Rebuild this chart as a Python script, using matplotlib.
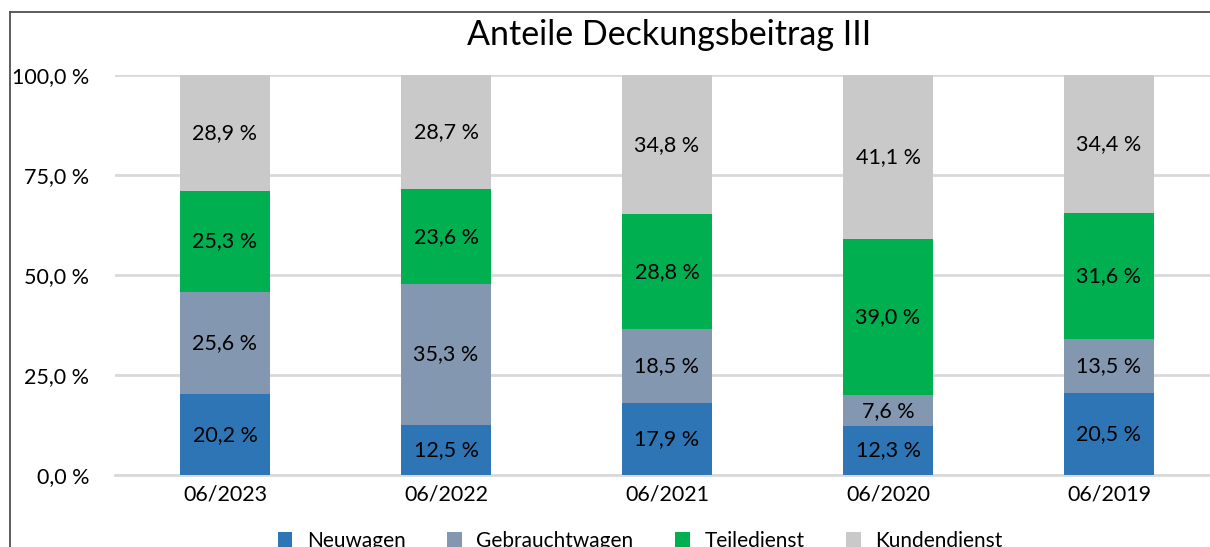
import matplotlib
matplotlib.use("Agg")
import matplotlib.pyplot as plt
from matplotlib.lines import Line2D
import numpy as np

plt.rcParams["font.family"] = ["Lato", "DejaVu Sans"]

categories = ["06/2023", "06/2022", "06/2021", "06/2020", "06/2019"]
series_names = ["Neuwagen", "Gebrauchtwagen", "Teiledienst", "Kundendienst"]
neuwagen = [20.2, 12.5, 17.9, 12.3, 20.5]
gebrauchtwagen = [25.6, 35.3, 18.5, 7.6, 13.5]
teiledienst = [25.3, 23.6, 28.8, 39.0, 31.6]
kundendienst = [28.9, 28.7, 34.8, 41.1, 34.4]
colors = ["#2E75B6", "#8497B0", "#00B050", "#C9C9C9"]


def fmt(v):
    return f"{v:.1f}".replace(".", ",") + " %"


fig = plt.figure(figsize=(12.1, 5.47), dpi=100)
ax = fig.add_axes([114.5 / 1210, 72 / 547, 1105 / 1210, 400 / 547])

x = np.arange(len(categories))
bottom = np.zeros(len(categories))
handles = []
for name, vals, c in zip(series_names, [neuwagen, gebrauchtwagen, teiledienst, kundendienst], colors):
    vals = np.array(vals)
    b = ax.bar(x, vals, 0.41, bottom=bottom, color=c, label=name, zorder=2)
    handles.append(b)
    for xi, v, bt in zip(x, vals, bottom):
        ax.text(xi, bt + v / 2, fmt(v), ha="center", va="center", fontsize=15.5, color="black", zorder=3)
    bottom += vals

ax.set_xlim(-0.5, len(categories) - 0.5)
ax.set_ylim(0, 100)
ax.set_yticks([0, 25, 50, 75, 100])
ax.set_yticklabels([fmt(v) for v in [0, 25, 50, 75, 100]], fontsize=15.5)
ax.set_xticks(x)
ax.set_xticklabels(categories, fontsize=15.5)
ax.tick_params(length=0)
ax.tick_params(axis="y", pad=18)
ax.tick_params(axis="x", pad=7)
ax.yaxis.grid(True, color="#D9D9D9", lw=2, zorder=0)
for s in ["top", "right", "left"]:
    ax.spines[s].set_visible(False)
ax.spines["bottom"].set_color("#D9D9D9")
ax.spines["bottom"].set_linewidth(2)
ax.spines["bottom"].set_zorder(1)

fig.text(0.553, 1 - 35 / 547, "Anteile Deckungsbeitrag III", ha="center", va="center", fontsize=24.5)

# legend sits at the lower edge and is partly clipped, as in the original
fig.legend(handles=handles, labels=series_names, loc="center", bbox_to_anchor=(0.529, 1 - 541 / 547),
           ncol=4, frameon=False, fontsize=15, handlelength=0.7, handleheight=0.7,
           columnspacing=2.0, handletextpad=0.7)

# outer chart frame (left and top edges visible)
fig.add_artist(Line2D([10 / 1210, 10 / 1210], [0, 1 - 12 / 547], transform=fig.transFigure, color="#505050", lw=1.3))
fig.add_artist(Line2D([10 / 1210, 1], [1 - 12 / 547, 1 - 12 / 547], transform=fig.transFigure, color="#505050", lw=1.3))

fig.savefig("out.png", dpi=100)
